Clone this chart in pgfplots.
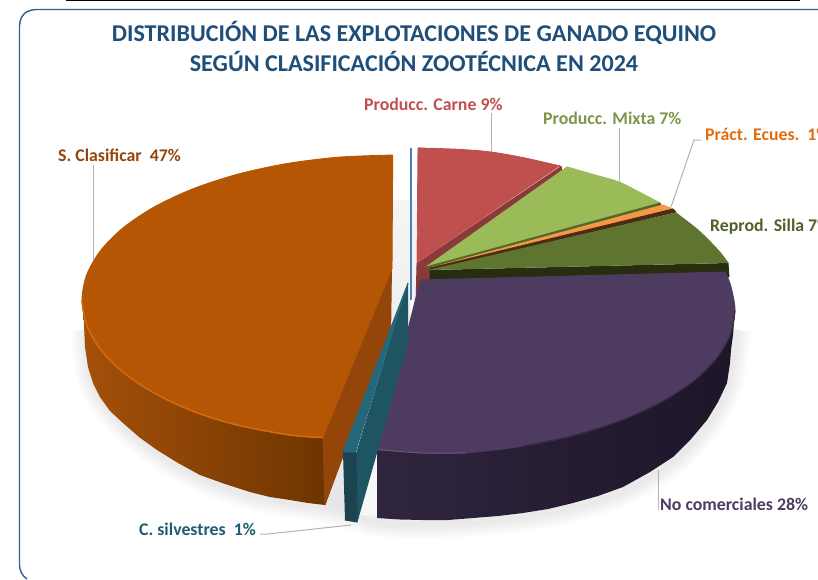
\documentclass[border=0pt]{standalone}
\usepackage{pgfplots}
\pgfplotsset{compat=1.18}
\usepackage{fontspec}
\setmainfont{Carlito}
\definecolor{cOr}{HTML}{B45604}
\definecolor{cOrCut}{HTML}{94460A}
\definecolor{cOrRim}{HTML}{D2690F}
\definecolor{cOrL}{HTML}{A4500A}
\definecolor{cOrR}{HTML}{6E3500}
\definecolor{cRed}{HTML}{C0504D}
\definecolor{cRedD}{HTML}{8A3A38}
\definecolor{cGr}{HTML}{9BBB59}
\definecolor{cGrD}{HTML}{4F6B28}
\definecolor{cAm}{HTML}{F79646}
\definecolor{cAmT}{HTML}{E46C0A}
\definecolor{cSi}{HTML}{5F742F}
\definecolor{cSiT}{HTML}{4F6228}
\definecolor{cSiD}{HTML}{262D10}
\definecolor{cPu}{HTML}{4D3B60}
\definecolor{cPuL}{HTML}{2F2540}
\definecolor{cPuR}{HTML}{1D1528}
\definecolor{cTe}{HTML}{24667A}
\definecolor{cTeC}{HTML}{1F5563}
\definecolor{cTeF}{HTML}{1B4450}
\definecolor{cFr}{HTML}{2F5F97}
\definecolor{cTi}{HTML}{1F4E79}
\definecolor{cBl}{HTML}{4A7EBB}
\pgfplotsset{
  flat/.style={draw=#1,line width=0.9pt,fill=#1,forget plot,no marks,line join=round},
  curved/.style={flat=#1,smooth},
  lead/.style={draw=black!30,line width=1pt,forget plot,no marks},
  shadowline/.style={draw=black,opacity=0.012,line width=#1,smooth,forget plot,no marks}
}
\tikzset{lab/.style={anchor=base west,inner sep=0pt,font=\fontsize{17.8}{19}\selectfont\bfseries}}
\pgfplotstableread{
x y
86 330
90 370
102 400
125 426
159 453
202 478
252 495
292 503
327 508
377 522
423 524
473 522
523 517
573 507
623 491
673 461
707 424
727 387
737 330
}\shadowpath
\begin{document}
\begin{tikzpicture}
\useasboundingbox (0,0) rectangle (818pt,579pt);
\begin{axis}[at={(0,0)},anchor=south west,width=818pt,height=579pt,scale only axis,
  xmin=0,xmax=818,ymin=0,ymax=579,y dir=reverse,hide axis,clip=true]
% frame and top rule
\addplot[draw=cFr,line width=1.4pt,line join=round,forget plot,no marks] coordinates {(818,9.5)(36,9.5)(31,10.2)(27,11.7)(24,14)(21.7,17)(20.2,21)(19.5,26)(19.5,565)(20,569)(21.5,573)(24,576.5)(27,579)};
\addplot[draw=black,line width=2pt,forget plot,no marks] coordinates {(66,0)(800,0)};
% shadows
\addplot[shadowline=30pt] table {\shadowpath};
\addplot[shadowline=26pt] table {\shadowpath};
\addplot[shadowline=22pt] table {\shadowpath};
\addplot[shadowline=18pt] table {\shadowpath};
\addplot[shadowline=14pt] table {\shadowpath};
\addplot[shadowline=10pt] table {\shadowpath};
\addplot[shadowline=6pt] table {\shadowpath};
\addplot[draw=none,top color=black!4,bottom color=black!10,forget plot,no marks] coordinates {(393,200)(416,200)(416,300)(380,450)(377,512)(345,512)(326,505)(390,330)};
\addplot[flat=black!3] coordinates {(358,515)(377,515)(377,450)(408,340)};
% S. Clasificar
\addplot[draw=none,left color=cOrL,right color=cOrR,forget plot,no marks] coordinates {(83,305)(84,325)(85,347)(88,367)(93,383)(100,397)(110,411)(123,423)(139,437)(157,450)(178,463)(200,475)(225,484)(250,492)(270,497)(290,500)(308,503)(325,505)(323,437)(200,380)};
\addplot[flat=cOrCut] coordinates {(392,268)(323,437)(325,505)(390.7,327)(391.5,268)};
\addplot[curved=cOr] coordinates {(392.7,155)(338.2,157.2)(286,163.7)(237,174.4)(192.7,188.9)(154.5,206.8)(123.5,227.5)(100.7,250.4)(86.7,274.8)(82,300)(86.7,325.2)(100.7,349.6)(123.5,372.5)(154.5,393.2)(192.7,411.1)(237,425)(290,435)(323,437.5)};
\addplot[flat=cOr] coordinates {(392.7,155)(392,268)(323,437)(280,410)(200,350)(120,300)(150,230)(280,170)};
\addplot[draw=cOrRim,line width=1.6pt,smooth,forget plot,no marks] coordinates {(82,300)(86.7,325.2)(100.7,349.6)(123.5,372.5)(154.5,393.2)(192.7,411.1)(237,425)(290,435)(323,437.5)};
% blue line
\addplot[draw=white,line width=2pt,forget plot,no marks] coordinates {(412,295)(412,325)};
\addplot[draw=cBl,line width=1.5pt,forget plot,no marks] coordinates {(411,148)(411,300)};
% Producc. Carne
\addplot[flat=cRedD] coordinates {(561,166)(562,171)(430,268)(430,281)(420,281)(416,305)(417,263)};
\addplot[curved=cRed] coordinates {(418,148)(458,149.3)(491,152)(525,158)(560,166)};
\addplot[flat=cRed] coordinates {(417,263)(418,148)(490,154.5)(560,166)};
% Producc. Mixta
\addplot[curved=cGr] coordinates {(567,167)(595,175)(619,182)(641,193)(660,203)};
\addplot[flat=cGr] coordinates {(426,267)(567,167)(619,184)(660,203)};
\addplot[flat=cGrD] coordinates {(426,267)(660,203)(661,205)(428,268)};
% Práct. Ecues.
\addplot[flat=cAm] coordinates {(430,268)(663,205)(673,209)};
\addplot[flat=black!70!cAm] coordinates {(430,268)(673,209)(676,212)(430,270)};
% Reprod. Silla
\addplot[flat=cSiD] coordinates {(728,263)(729,277)(430,280)(430,270)};
\addplot[curved=cSi] coordinates {(676,213)(698,230)(718,250)(728,263)};
\addplot[flat=cSi] coordinates {(430,270)(676,213)(702,236.5)(728,263)};
% No comerciales
\addplot[draw=none,left color=cPuL,right color=cPuR,forget plot,no marks] coordinates {(735,310)(734,323)(733,335)(731,350)(730,363)(727,383)(718,402)(707,420)(691,439)(673,457)(650,472)(623,487)(598,496)(573,503)(548,509)(523,513)(498,516)(473,518)(448,520)(423,520)(400,519.5)(377,518)(377,449)(600,300)};
\addplot[curved=cPu] coordinates {(725,272)(730.5,285)(735,310)(730,335.2)(715.4,359.6)(691.5,382.5)(659,403.2)(618.9,421.1)(572.5,435.6)(521.2,446.3)(466.4,452.8)(423,453)(377,449.5)};
\addplot[flat=cPu] coordinates {(420,280)(725,272)(700,330)(600,390)(450,440)(377,449.5)};
\addplot[draw=cPu!75!black,line width=1pt,smooth,forget plot,no marks] coordinates {(735,310)(730,335.2)(715.4,359.6)(691.5,382.5)(659,403.2)(618.9,421.1)(572.5,435.6)(521.2,446.3)};
\addplot[draw=cPu!85!white,line width=1pt,smooth,forget plot,no marks] coordinates {(466.4,452.8)(423,453)(377,449.5)};
% C. silvestres
\addplot[flat=cTeC] coordinates {(408,283)(356,455)(357,522)(408,342)};
\addplot[flat=cTeF] coordinates {(343,452)(356,452)(357,522)(345,520)};
\addplot[flat=cTe] coordinates {(408,283)(343,452)(356,452)};
% leader lines
\addplot[lead] coordinates {(491,113)(491,152)};
\addplot[lead] coordinates {(619,128)(619,182)};
\addplot[lead] coordinates {(701,140)(694,140)(671,207)};
\addplot[lead] coordinates {(93,165)(93,260)};
\addplot[lead] coordinates {(260,534)(268,534)(351,525)};
\addplot[lead] coordinates {(658,470)(658,510)};
% texts
\node[anchor=base,font=\fontsize{24.1}{26}\selectfont\bfseries,text=cTi] at (axis cs:414,41) {DISTRIBUCIÓN DE LAS EXPLOTACIONES DE GANADO EQUINO};
\node[anchor=base,font=\fontsize{24.1}{26}\selectfont\bfseries,text=cTi] at (axis cs:414,71) {SEGÚN CLASIFICACIÓN ZOOTÉCNICA EN 2024};
\node[lab,text=cRed] at (axis cs:364,110) {Producc. Carne 9\%};
\node[lab,text=cGr!80!black] at (axis cs:543,124) {Producc. Mixta 7\%};
\node[lab,text=cAmT] at (axis cs:705,140) {Práct. Ecues.\ \ 1\%};
\node[lab,text=cSiT] at (axis cs:710,231) {Reprod. Silla 7\%};
\node[lab,text=cOrCut] at (axis cs:58,161) {S. Clasificar\ \ 47\%};
\node[lab,text=cPu] at (axis cs:660,510) {No comerciales 28\%};
\node[lab,text=cTe!90!black] at (axis cs:139,535) {C. silvestres\ \ 1\%};
\end{axis}
\end{tikzpicture}
\end{document}
